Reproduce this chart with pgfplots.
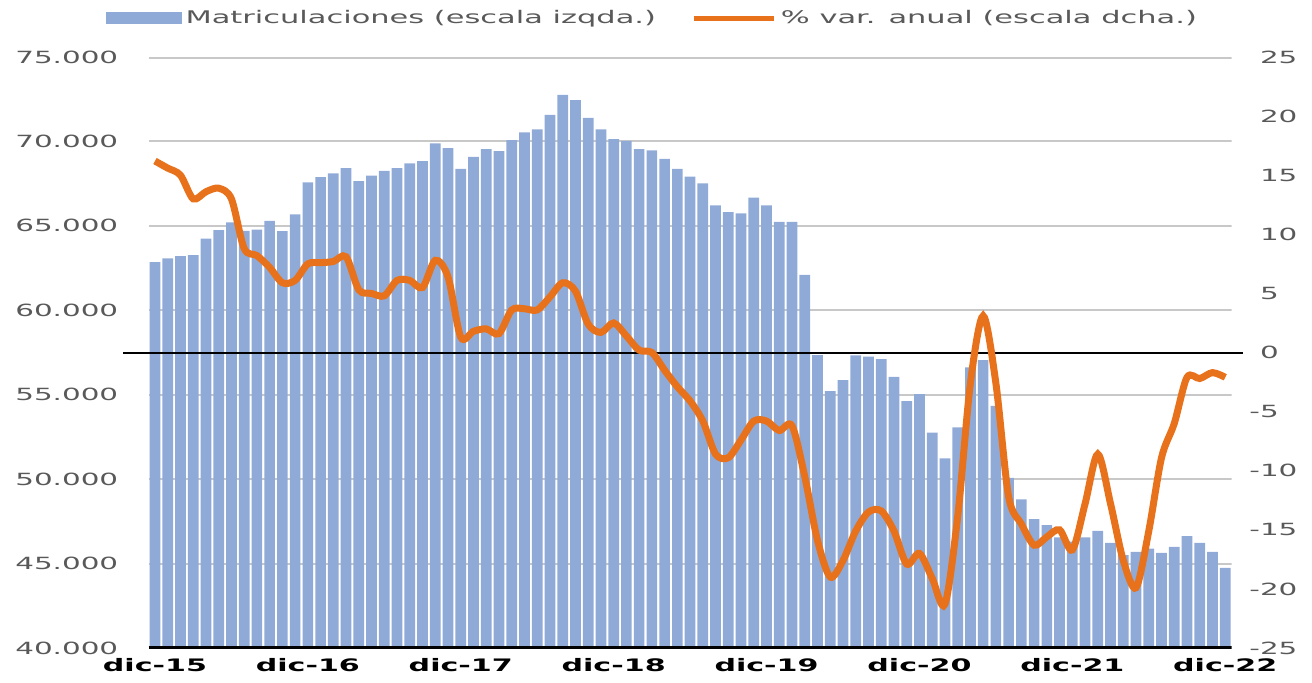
\documentclass[border=0pt]{standalone}
\usepackage{fontspec}
\setmainfont{DejaVu Sans}[FakeStretch=1.75]
\usepackage{pgfplots}
\usepackage{pgfplotstable}
\pgfplotsset{compat=1.18}

\definecolor{barblue}{RGB}{143,170,214}
\definecolor{linorange}{RGB}{232,114,28}
\definecolor{txtgray}{RGB}{89,89,89}
\definecolor{gridgray}{RGB}{200,200,200}

% matriculaciones mensuales, dic-15 .. dic-22 (x = mes)
\pgfplotstableread{
x v
0 62850
1 63080
2 63210
3 63270
4 64240
5 64750
6 65210
7 64700
8 64770
9 65290
10 64690
11 65680
12 67580
13 67890
14 68110
15 68420
16 67650
17 67970
18 68250
19 68420
20 68700
21 68840
22 69890
23 69610
24 68370
25 69080
26 69550
27 69430
28 70070
29 70540
30 70720
31 71580
32 72750
33 72440
34 71390
35 70720
36 70140
37 70040
38 69550
39 69470
40 68960
41 68370
42 67910
43 67520
44 66220
45 65820
46 65740
47 66670
48 66220
49 65230
50 65230
51 62090
52 57350
53 55210
54 55870
55 57330
56 57250
57 57110
58 56060
59 54620
60 55040
61 52750
62 51230
63 53060
64 56620
65 57050
66 54340
67 50080
68 48800
69 47630
70 47280
71 46550
72 46300
73 46550
74 46940
75 46230
76 45500
77 45700
78 45890
79 45640
80 45990
81 46620
82 46230
83 45700
84 44750
}\matric

% % var. anual
\pgfplotstableread{
x p
0 16.2
1 15.6
2 15.0
3 13.0
4 13.6
5 13.9
6 13.0
7 8.8
8 8.2
9 7.2
10 5.9
11 6.1
12 7.5
13 7.6
14 7.7
15 8.1
16 5.3
17 5.0
18 4.8
19 6.1
20 6.1
21 5.5
22 7.8
23 6.4
24 1.3
25 1.8
26 2.0
27 1.6
28 3.6
29 3.7
30 3.6
31 4.7
32 5.9
33 5.2
34 2.4
35 1.7
36 2.5
37 1.4
38 0.2
39 0.0
40 -1.5
41 -2.9
42 -4.1
43 -5.8
44 -8.6
45 -8.9
46 -7.4
47 -5.8
48 -5.8
49 -6.6
50 -6.2
51 -10.5
52 -15.9
53 -19.0
54 -17.6
55 -15.1
56 -13.5
57 -13.4
58 -15.1
59 -17.9
60 -17.0
61 -19.1
62 -21.3
63 -13.9
64 -2.6
65 3.1
66 -2.6
67 -12.2
68 -14.5
69 -16.3
70 -15.6
71 -15.0
72 -16.7
73 -12.8
74 -8.6
75 -12.8
76 -17.6
77 -19.9
78 -15.1
79 -8.9
80 -6.0
81 -2.1
82 -2.2
83 -1.7
84 -2.1
}\varanual

\begin{document}
\begin{tikzpicture}
\useasboundingbox (-74.3pt,-17pt) rectangle (581.7pt,324pt);

\begin{axis}[
    scale only axis,
    width=541.5pt, height=295.5pt,
    xmin=-0.5, xmax=84.5,
    ymin=40000, ymax=75000,
    scaled y ticks=false,
    axis line style={draw=none},
    tick style={draw=none},
    ytick={40000,45000,50000,55000,60000,65000,70000,75000},
    yticklabels={40.000,45.000,50.000,55.000,60.000,65.000,70.000,75.000},
    xtick={0,12,24,36,48,60,72,84},
    xticklabels={dic-15,dic-16,dic-17,dic-18,dic-19,dic-20,dic-21,dic-22},
    xticklabel style={font=\fontsize{8.6}{10}\selectfont\bfseries, text=black,
        inner sep=0pt, anchor=north, yshift=-5pt},
    yticklabel style={font=\fontsize{8.4}{10}\selectfont, text=txtgray,
        inner sep=0pt, anchor=east, xshift=-15pt},
]
% lineas de rejilla
\pgfplotsinvokeforeach{45000,50000,55000,60000,65000,70000}{
    \draw[draw=gridgray, line width=1pt] (axis cs:-0.5,#1) -- (axis cs:84.5,#1);
}
\draw[draw=gridgray, line width=1pt] (rel axis cs:0,0.998) -- (rel axis cs:1,0.998);
\addplot[ybar, bar width=0.84, fill=barblue, draw=none] table[x=x,y=v]{\matric};
\draw[black, line width=2.5pt] (rel axis cs:0,0) -- (rel axis cs:1,0);
\end{axis}

\begin{axis}[
    scale only axis,
    width=541.5pt, height=295.5pt,
    xmin=-0.5, xmax=84.5,
    ymin=-25, ymax=25,
    clip=false,
    axis line style={draw=none},
    tick style={draw=none},
    xtick=\empty,
    yticklabel pos=right,
    ytick={-25,-20,-15,-10,-5,0,5,10,15,20,25},
    yticklabels={\llap{-}25,\llap{-}20,\llap{-}15,\llap{-}10,\llap{-}5,0,5,10,15,20,25},
    yticklabel style={font=\fontsize{8.4}{10}\selectfont, text=txtgray,
        inner sep=0pt, anchor=west, xshift=14pt},
    legend style={at={(0.466,1.066)}, anchor=center, draw=none, fill=none,
        font=\fontsize{8.7}{10}\selectfont, text=txtgray,
        legend columns=2,
        /tikz/every even column/.append style={column sep=16pt}},
    legend cell align=left,
]
\addlegendimage{legend image code/.code={\fill[barblue] (0pt,-2.75pt) rectangle (37.5pt,2.75pt);}}
\addlegendentry{Matriculaciones (escala izqda.)}
\draw[black, line width=1pt] (axis cs:-2.5,0) -- (axis cs:85.4,0);
\addplot[linorange, line width=3.5pt, smooth, tension=0.5,
    legend image code/.code={\draw[linorange, line width=2.5pt] (0pt,0pt) -- (40pt,0pt);}]
    table[x=x,y=p]{\varanual};
\addlegendentry{\% var. anual (escala dcha.)}
\end{axis}
\end{tikzpicture}
\end{document}
